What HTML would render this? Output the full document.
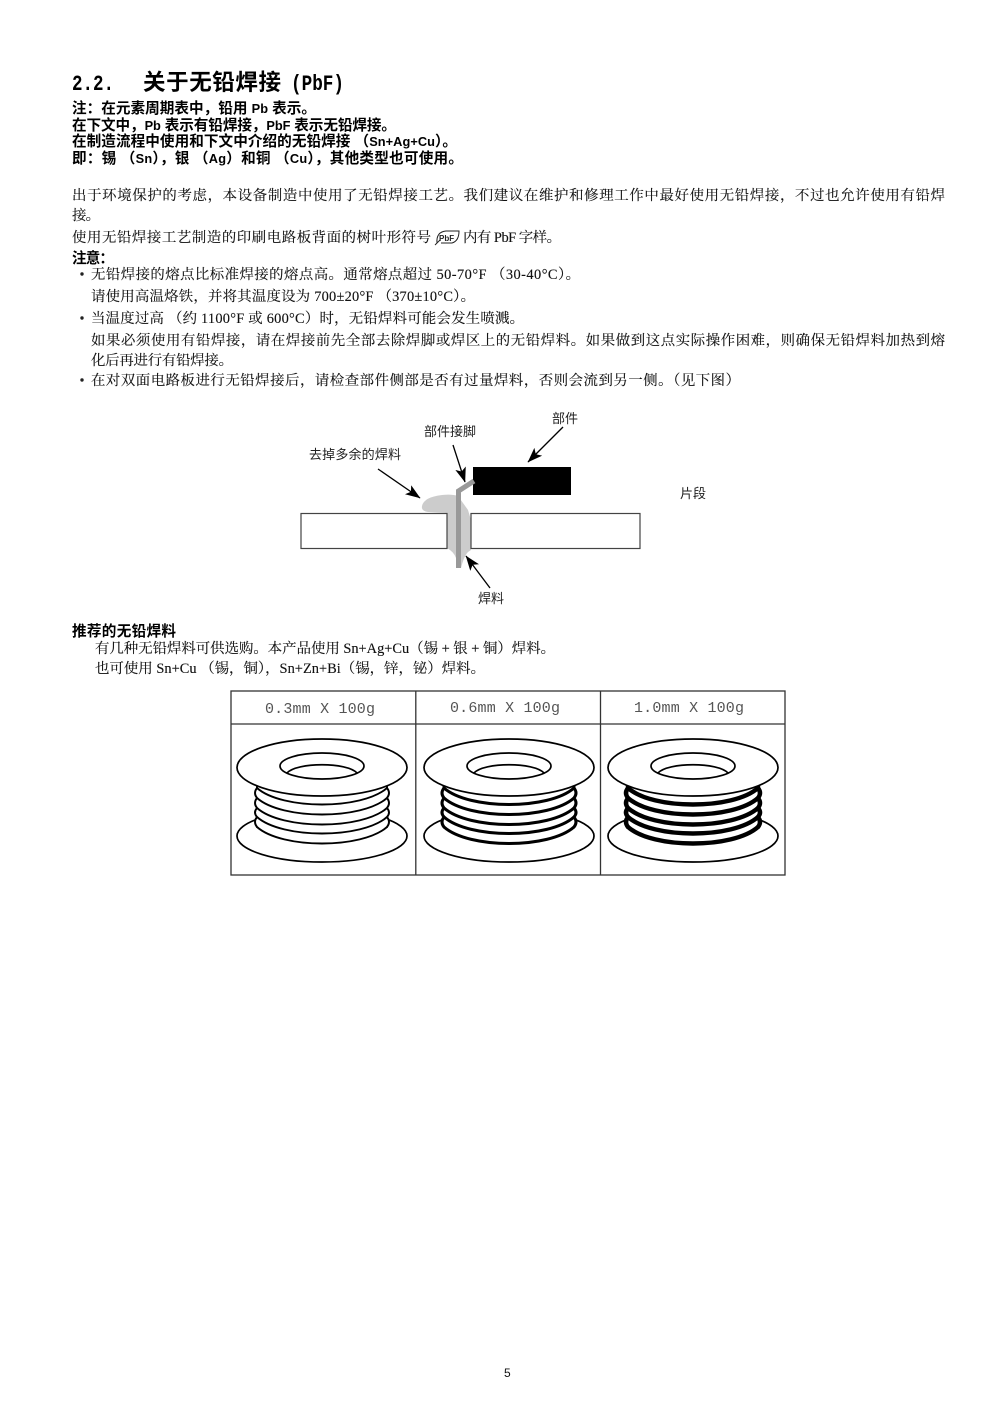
<!DOCTYPE html>
<html lang="zh"><head><meta charset="utf-8"><title>2.2 关于无铅焊接</title>
<style>
html,body{margin:0;padding:0;background:#fff}
svg{display:block}
.t{font-family:"Liberation Serif","Noto Serif CJK SC",serif;font-size:14.4px;fill:#111;stroke:#111;stroke-width:.12}
.b{font-family:"Liberation Sans","Noto Sans CJK SC",sans-serif;font-size:14.6px;font-weight:700;fill:#000}
.b tspan{font-size:12.8px}
.h{font-family:"Noto Sans CJK SC",sans-serif;font-size:22.5px;font-weight:700;fill:#000}
.n{font-family:"Liberation Mono",monospace;font-size:22px;font-weight:700;fill:#000}
.l{font-family:"Liberation Sans","Noto Sans CJK SC",sans-serif;font-size:13px;fill:#222}
.m{font-family:"Liberation Mono",monospace;font-size:15px;fill:#555}
</style></head><body>
<svg xmlns="http://www.w3.org/2000/svg" width="993" height="1404" viewBox="0 0 993 1404">
<defs>
<marker id="a" viewBox="0 0 15 11" refX="14.5" refY="5.5" markerWidth="15" markerHeight="11" markerUnits="userSpaceOnUse" orient="auto"><path d="M0 0L15 5.5L0 11L3.5 5.5Z" fill="#000"/></marker>
<g id="spool">
<ellipse cx="0" cy="836" rx="85" ry="26" fill="#fff" stroke="#000" stroke-width="1.7"/>
<path d="M-66 785V832C-40 852 40 852 66 832V785Z" fill="#fff"/>
<g fill="none" stroke="#000" stroke-linecap="round">
<path d="M-65 788C-40 810 40 810 65 788"/>
<path d="M-65 798C-40 820 40 820 65 798"/>
<path d="M-65 808C-40 830 40 830 65 808"/>
<path d="M-65 817C-40 839 40 839 65 817"/>
<path d="M-65 827C-40 849 40 849 65 827"/>
<path d="M-65 784V788Q-69 793-65 798Q-69 803-65 808Q-69 812.5-65 817Q-69 822-65 827"/>
<path d="M65 784V788Q69 793 65 798Q69 803 65 808Q69 812.5 65 817Q69 822 65 827"/>
</g>
<ellipse cx="0" cy="767.5" rx="85" ry="28.5" fill="#fff" stroke="#000" stroke-width="1.7"/>
<ellipse cx="0" cy="766" rx="42" ry="13" fill="#fff" stroke="#000" stroke-width="1.7"/>
<path d="M-35 773C-25 762 25 762 35 773" fill="none" stroke="#000" stroke-width="1.7"/>
</g>
</defs>

<text class="n" x="72" y="90" textLength="42" lengthAdjust="spacingAndGlyphs">2.2.</text>
<text class="h" x="143" y="90" textLength="138" lengthAdjust="spacing">关于无铅焊接</text>
<text class="n" x="291" y="90" textLength="53" lengthAdjust="spacingAndGlyphs">(PbF)</text>

<text class="b" x="72" y="113" textLength="244" lengthAdjust="spacing">注：在元素周期表中，铅用 <tspan>Pb</tspan> 表示。</text>
<text class="b" x="72" y="130" textLength="324" lengthAdjust="spacing">在下文中，<tspan>Pb</tspan> 表示有铅焊接，<tspan>PbF</tspan> 表示无铅焊接。</text>
<text class="b" x="72" y="146" textLength="385" lengthAdjust="spacing">在制造流程中使用和下文中介绍的无铅焊接 （<tspan>Sn+Ag+Cu</tspan>）。</text>
<text class="b" x="72" y="163" textLength="391" lengthAdjust="spacing">即：锡 （<tspan>Sn</tspan>），银 （<tspan>Ag</tspan>）和铜 （<tspan>Cu</tspan>），其他类型也可使用。</text>

<text class="t" x="72" y="200" textLength="873" lengthAdjust="spacing">出于环境保护的考虑，本设备制造中使用了无铅焊接工艺。我们建议在维护和修理工作中最好使用无铅焊接，不过也允许使用有铅焊</text>
<text class="t" x="72" y="220" textLength="28" lengthAdjust="spacing">接。</text>
<text class="t" x="72" y="242" textLength="359" lengthAdjust="spacing">使用无铅焊接工艺制造的印刷电路板背面的树叶形符号</text>
<path d="M437 243Q436 232 446 231H459Q459 241 452 243H441" fill="#fff" stroke="#222" stroke-width="1"/>
<path d="M435 245L440 240" stroke="#222" stroke-width="1"/>
<text x="439" y="241" font-family="Liberation Sans,sans-serif" font-size="8" font-weight="700" fill="#222">PbF</text>
<text class="t" x="463" y="242" textLength="98" lengthAdjust="spacing">内有 PbF 字样。</text>

<text class="b" x="72" y="263" textLength="42" lengthAdjust="spacing">注意：</text>
<circle cx="82" cy="274" r="1.7" fill="#222"/>
<text class="t" x="91" y="279" textLength="489" lengthAdjust="spacing">无铅焊接的熔点比标准焊接的熔点高。通常熔点超过 50-70°F （30-40°C）。</text>
<text class="t" x="91" y="301" textLength="384" lengthAdjust="spacing">请使用高温烙铁，并将其温度设为 700±20°F （370±10°C）。</text>
<circle cx="82" cy="318" r="1.7" fill="#222"/>
<text class="t" x="91" y="323" textLength="433" lengthAdjust="spacing">当温度过高 （约 1100°F 或 600°C）时，无铅焊料可能会发生喷溅。</text>
<text class="t" x="91" y="345" textLength="854" lengthAdjust="spacing">如果必须使用有铅焊接，请在焊接前先全部去除焊脚或焊区上的无铅焊料。如果做到这点实际操作困难，则确保无铅焊料加热到熔</text>
<text class="t" x="91" y="365" textLength="142" lengthAdjust="spacing">化后再进行有铅焊接。</text>
<circle cx="82" cy="380" r="1.7" fill="#222"/>
<text class="t" x="91" y="385" textLength="649" lengthAdjust="spacing">在对双面电路板进行无铅焊接后，请检查部件侧部是否有过量焊料，否则会流到另一侧。（见下图）</text>

<!-- solder diagram -->
<path d="M422 506Q424 497 442 495Q452 494 458 496L468 510L471 520V550L468 552Q464 556 461 568H456V558Q454 552 447 548V513L428 512Q421 511 422 506Z" fill="#ccc"/>
<rect x="301" y="513.5" width="146" height="35" fill="none" stroke="#444" stroke-width="1.2"/>
<rect x="471" y="513.5" width="169" height="35" fill="none" stroke="#444" stroke-width="1.2"/>
<rect x="473" y="467" width="98" height="28" fill="#000"/>
<path d="M458.5 568V491L474 481" fill="none" stroke="#999" stroke-width="5"/>
<g stroke="#000" stroke-width="1.3" fill="none" marker-end="url(#a)">
<line x1="378" y1="469" x2="420" y2="498"/>
<line x1="453" y1="445" x2="465" y2="482"/>
<line x1="563" y1="427" x2="528" y2="462"/>
<line x1="490" y1="588" x2="466" y2="556"/>
</g>
<text class="l" x="552" y="423" textLength="26" lengthAdjust="spacing">部件</text>
<text class="l" x="424" y="436" textLength="52" lengthAdjust="spacing">部件接脚</text>
<text class="l" x="309" y="459" textLength="92" lengthAdjust="spacing">去掉多余的焊料</text>
<text class="l" x="680" y="498" textLength="26" lengthAdjust="spacing">片段</text>
<text class="l" x="478" y="603" textLength="26" lengthAdjust="spacing">焊料</text>

<text class="b" x="72" y="636" textLength="104" lengthAdjust="spacing">推荐的无铅焊料</text>
<text class="t" x="95" y="653" textLength="460" lengthAdjust="spacing">有几种无铅焊料可供选购。本产品使用 Sn+Ag+Cu（锡 + 银 + 铜）焊料。</text>
<text class="t" x="95" y="673" textLength="390" lengthAdjust="spacing">也可使用 Sn+Cu （锡，铜），Sn+Zn+Bi（锡，锌，铋）焊料。</text>

<!-- table -->
<rect x="231" y="691" width="554" height="184" fill="none" stroke="#333" stroke-width="1.3"/>
<line x1="231" y1="724" x2="785" y2="724" stroke="#333" stroke-width="1.3"/>
<line x1="415.8" y1="691" x2="415.8" y2="875" stroke="#333" stroke-width="1.3"/>
<line x1="600.5" y1="691" x2="600.5" y2="875" stroke="#333" stroke-width="1.3"/>
<text class="m" x="265" y="713" textLength="110" lengthAdjust="spacing">0.3mm X 100g</text>
<text class="m" x="450" y="712" textLength="110" lengthAdjust="spacing">0.6mm X 100g</text>
<text class="m" x="634" y="712" textLength="110" lengthAdjust="spacing">1.0mm X 100g</text>
<use href="#spool" x="322" y="0" stroke-width="1.9"/>
<use href="#spool" x="509" y="0" stroke-width="3"/>
<use href="#spool" x="693" y="0" stroke-width="4.4"/>

<text x="504" y="1377" font-family="Liberation Sans,sans-serif" font-size="12" fill="#111">5</text>
</svg>
</body></html>
